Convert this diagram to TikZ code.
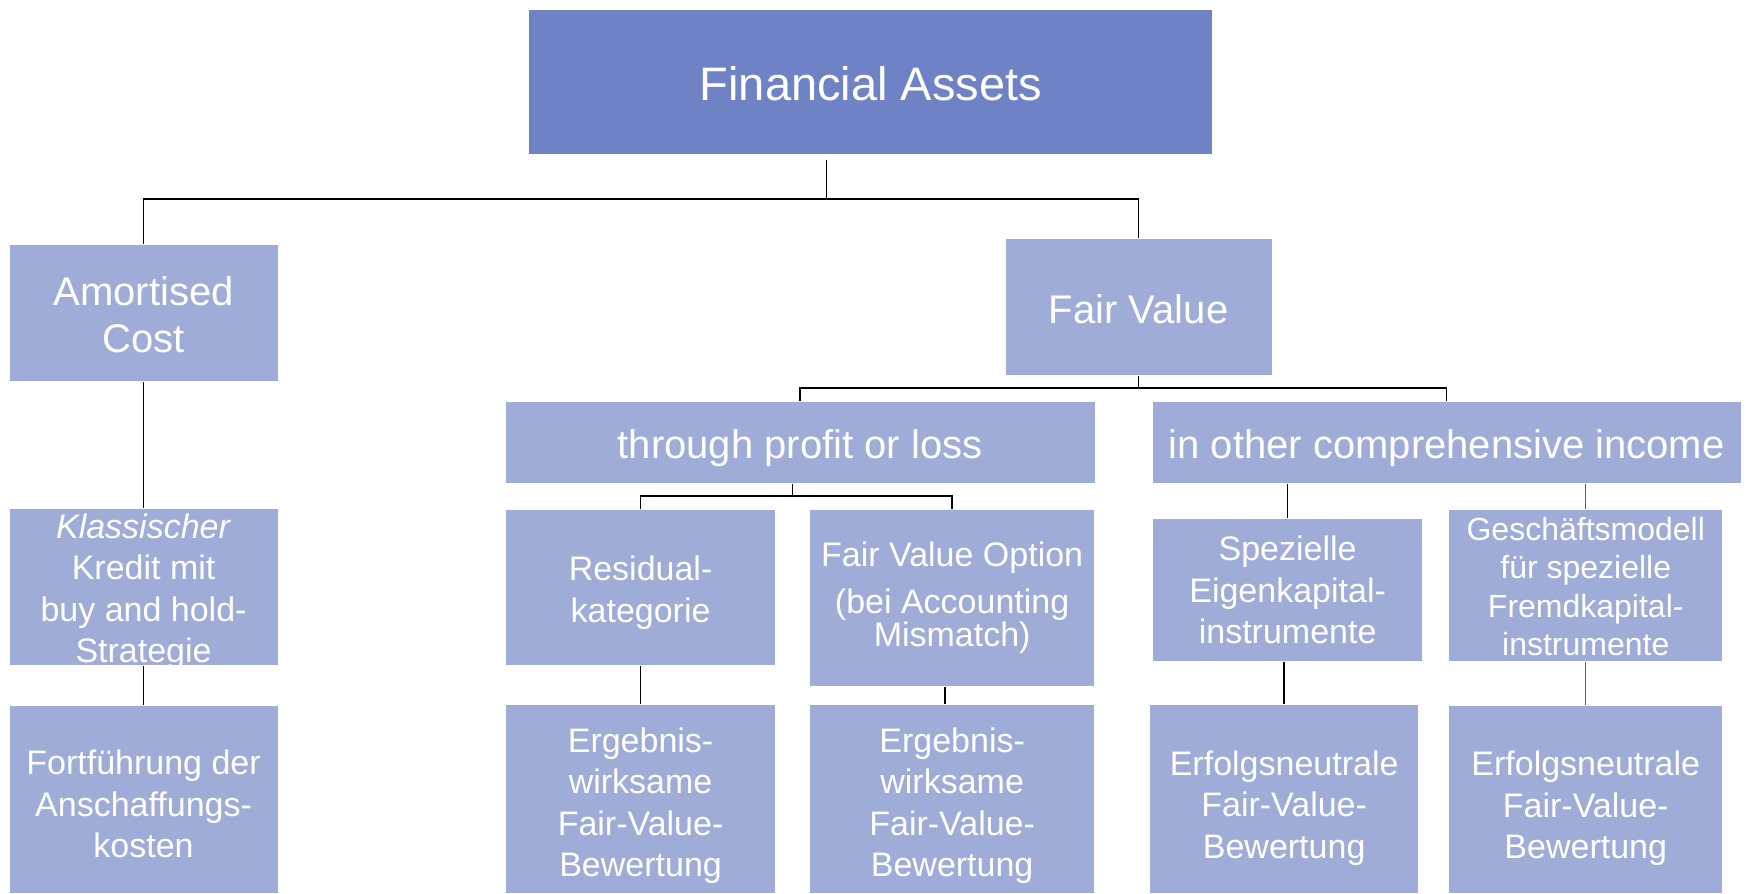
\documentclass[tikz,border=0pt]{standalone}
\usepackage{fontspec}
\setmainfont{Liberation Sans}
\usepackage{tikz}
\definecolor{topblue}{RGB}{111,130,197}
\definecolor{boxblue}{RGB}{159,172,215}
\definecolor{tealline}{RGB}{31,115,140}
\newcommand{\fsTop}{\fontsize{47}{56}\selectfont}
\newcommand{\fsMid}{\fontsize{40}{47}\selectfont}
\newcommand{\fsBox}{\fontsize{34}{41.5}\selectfont}
\newcommand{\fsTiny}{\fontsize{32}{38.5}\selectfont}
\newcommand{\padtop}[1]{\rule{0pt}{#1}}

\begin{document}
\begin{tikzpicture}[x=0.997pt,y=-1pt,line width=1.6pt]
  \tikzstyle{box}=[rectangle,fill=boxblue,text=white,inner sep=0pt,align=center,font=\fsBox]
  \tikzstyle{topbox}=[box,fill=topblue,font=\fsTop]
  \tikzstyle{midbox}=[box,font=\fsMid]

  \useasboundingbox[fill=white] (0,0) rectangle (1751.25,893);

  \node[topbox,minimum width=683,minimum height=144] (fa) at (873.5,82) {\padtop{38pt}Financial Assets};

  \node[midbox,minimum width=268,minimum height=136] (am) at (144,313) {\padtop{33pt}Amortised\\Cost};
  \node[midbox,minimum width=266,minimum height=136] (fv) at (1142,307) {\padtop{33pt}Fair Value};

  \node[midbox,minimum width=589,minimum height=81] (tpl) at (802.5,442.5) {\padtop{40pt}through profit or loss};
  \node[midbox,minimum width=588,minimum height=81] (oci) at (1451,442.5) {\padtop{40pt}in other comprehensive income};

  \node[box,minimum width=268,minimum height=156,
        label={[box,fill=none,yshift=-4.5pt]center:{\textit{Klassischer}\\Kredit mit\\buy and hold-\\Strategie}}] (kl) at (144,587) {};
  \node[box,minimum width=269,minimum height=155] (res) at (642.5,587.5) {\padtop{35.5pt}Residual-\\kategorie};
  \node[box,minimum width=284,minimum height=176,font=\fontsize{34}{33}\selectfont] (fvo) at (955,598) {Fair Value Option\\[14pt](bei Accounting\\Mismatch)};
  \node[box,minimum width=269,minimum height=142] (spez) at (1291.5,590) {Spezielle\\Eigenkapital-\\instrumente};
  \node[box,minimum width=273,minimum height=151,font=\fsTiny] (gm) at (1590.5,585.5) {\padtop{25pt}Geschäftsmodell\\für spezielle\\Fremdkapital-\\instrumente};

  \node[box,minimum width=268,minimum height=187] (fort) at (144,799.5) {\padtop{33.5pt}Fortführung der\\Anschaffungs-\\kosten};
  \node[box,minimum width=269,minimum height=188] (erg1) at (642.5,799) {\padtop{38pt}Ergebnis-\\wirksame\\Fair-Value-\\Bewertung};
  \node[box,minimum width=284,minimum height=188] (erg2) at (955,799) {\padtop{38pt}Ergebnis-\\wirksame\\Fair-Value-\\Bewertung};
  \node[box,minimum width=268,minimum height=188] (erf1) at (1288,799) {\padtop{42.5pt}Erfolgsneutrale\\Fair-Value-\\Bewertung};
  \node[box,minimum width=273,minimum height=187] (erf2) at (1590.5,799.5) {\padtop{42.5pt}Erfolgsneutrale\\Fair-Value-\\Bewertung};

  \coordinate (j1) at (829,199);
  \coordinate (j2) at (1142,388);
  \coordinate (j3) at (795,496);

  \draw[shorten <=5pt] (j1 |- fa.south) -- (j1);
  \draw (am.north) |- (j1) -| (fv.north);
  \draw (fv.south) -- (j2);
  \draw (tpl.north) |- (j2) -| (oci.north);
  \draw (tpl.south -| j3) -- (j3);
  \draw (res.north) |- (j3) -| (fvo.north);
  \draw (oci.south -| spez.north) -- (spez.north);
  \draw[tealline,line width=1.2pt] (oci.south -| gm.north) -- (gm.north);

  \draw (am.south) -- (kl.north);
  \draw (kl.south) -- (fort.north);
  \draw (res.south) -- (erg1.north);
  \draw ([xshift=-7pt]fvo.south) -- ([xshift=-7pt]erg2.north);
  \draw (erf1.north |- spez.south) -- (erf1.north);
  \draw[tealline,line width=1.2pt] (gm.south) -- (erf2.north);
\end{tikzpicture}
\end{document}
